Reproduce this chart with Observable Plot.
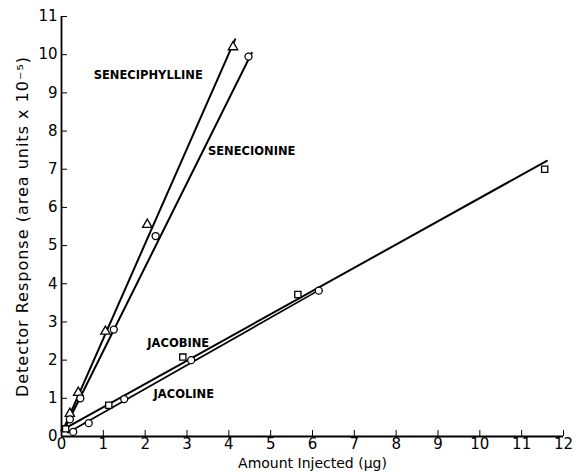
<!DOCTYPE html>
<html><head><meta charset="utf-8">
<script src="https://cdn.jsdelivr.net/npm/d3@7"></script>
<script src="https://cdn.jsdelivr.net/npm/@observablehq/plot@0.6"></script>
<style>body{margin:0;background:#fff;} svg{display:block;}</style>
</head><body><div id="chart"></div>
<script>
const xTicks = [0,1,2,3,4,5,6,7,8,9,10,11,12];
const yTicks = [0,1,2,3,4,5,6,7,8,9,10,11];

// measured points
const seneciphyllineX = [0.2, 0.4, 1.05, 2.05, 4.1];
const seneciphyllineY = [0.6, 1.15, 2.75, 5.55, 10.2];
const senecionineX = [0.2, 0.45, 1.25, 2.25, 4.47];
const senecionineY = [0.45, 1.0, 2.8, 5.25, 9.95];
const jacobineX = [0.1, 1.13, 2.9, 5.65, 11.55];
const jacobineY = [0.2, 0.82, 2.08, 3.72, 7.0];
const jacolineX = [0.28, 0.65, 1.5, 3.1, 6.15];
const jacolineY = [0.12, 0.35, 0.98, 2.0, 3.82];

// fitted lines (end points)
const fitSeneciphyllineX = [0.05, 4.15];
const fitSeneciphyllineY = [0.2, 10.4];
const fitSenecionineX = [0.05, 4.55];
const fitSenecionineY = [0.15, 10.05];
const fitJacobineX = [0, 11.6];
const fitJacobineY = [0.16, 7.22];
const fitJacolineX = [0.15, 6.2];
const fitJacolineY = [0.1, 3.86];

// labels
const labelNames = ["SENECIPHYLLINE", "SENECIONINE", "JACOBINE", "JACOLINE"];
const labelX = [0.77, 3.5, 2.05, 2.2];
const labelY = [9.45, 7.47, 2.45, 1.1];

const pts = (xs, ys) => xs.map((x, i) => ({x, y: ys[i]}));
const labels = labelNames.map((t, i) => ({t, x: labelX[i], y: labelY[i]}));

const W = 576, H = 473;
const mL = 61, mR = 13, mT = 16, mB = 37;
const font = "DejaVu Sans, sans-serif";

const plot = Plot.plot({
  width: W, height: H,
  marginLeft: mL, marginRight: mR, marginTop: mT, marginBottom: mB,
  style: {fontFamily: font, background: "#fff", color: "#000"},
  x: {domain: [0, 12]},
  y: {domain: [0, 11]},
  marks: [
    Plot.ruleY([0], {stroke: "#000", strokeWidth: 1.8}),
    Plot.ruleX([0], {stroke: "#000", strokeWidth: 1.8}),
    Plot.axisX({ticks: xTicks, tickSize: -6, tickPadding: 8, fontSize: 15, label: null}),
    Plot.axisY({ticks: yTicks, tickSize: -6, tickPadding: 10, fontSize: 15, label: null}),
    Plot.line(pts(fitSeneciphyllineX, fitSeneciphyllineY), {x: "x", y: "y", stroke: "#000", strokeWidth: 2}),
    Plot.line(pts(fitSenecionineX, fitSenecionineY), {x: "x", y: "y", stroke: "#000", strokeWidth: 2}),
    Plot.line(pts(fitJacobineX, fitJacobineY), {x: "x", y: "y", stroke: "#000", strokeWidth: 2}),
    Plot.line(pts(fitJacolineX, fitJacolineY), {x: "x", y: "y", stroke: "#000", strokeWidth: 1.7}),
    Plot.dot(pts(seneciphyllineX, seneciphyllineY), {x: "x", y: "y", symbol: "triangle", r: 3.5, fill: "#fff", stroke: "#000", strokeWidth: 1.3}),
    Plot.dot(pts(senecionineX, senecionineY), {x: "x", y: "y", symbol: "circle", r: 3.5, fill: "#fff", stroke: "#000", strokeWidth: 1.3}),
    Plot.dot(pts(jacobineX, jacobineY), {x: "x", y: "y", symbol: "square", r: 3.5, fill: "#fff", stroke: "#000", strokeWidth: 1.3}),
    Plot.dot(pts(jacolineX, jacolineY), {x: "x", y: "y", symbol: "circle", r: 3.5, fill: "#fff", stroke: "#000", strokeWidth: 1.3}),
    Plot.text(labels, {x: "x", y: "y", text: "t", textAnchor: "start", fontSize: 11.5, fontWeight: "bold", fill: "#000"}),
    Plot.text(["Amount Injected (\u03bcg)"], {frameAnchor: "bottom", dy: 31, fontSize: 14, fill: "#000"}),
    Plot.text(["Detector Response (area units x 10\u207b\u2075)"], {frameAnchor: "left", textAnchor: "middle", dx: -39, rotate: -90, fontSize: 16, fill: "#000", className: "ytitle"})
  ]
});
d3.select(plot).selectAll(".ytitle text").attr("letter-spacing", "1px");
document.getElementById("chart").appendChild(plot);
</script>
</body></html>
